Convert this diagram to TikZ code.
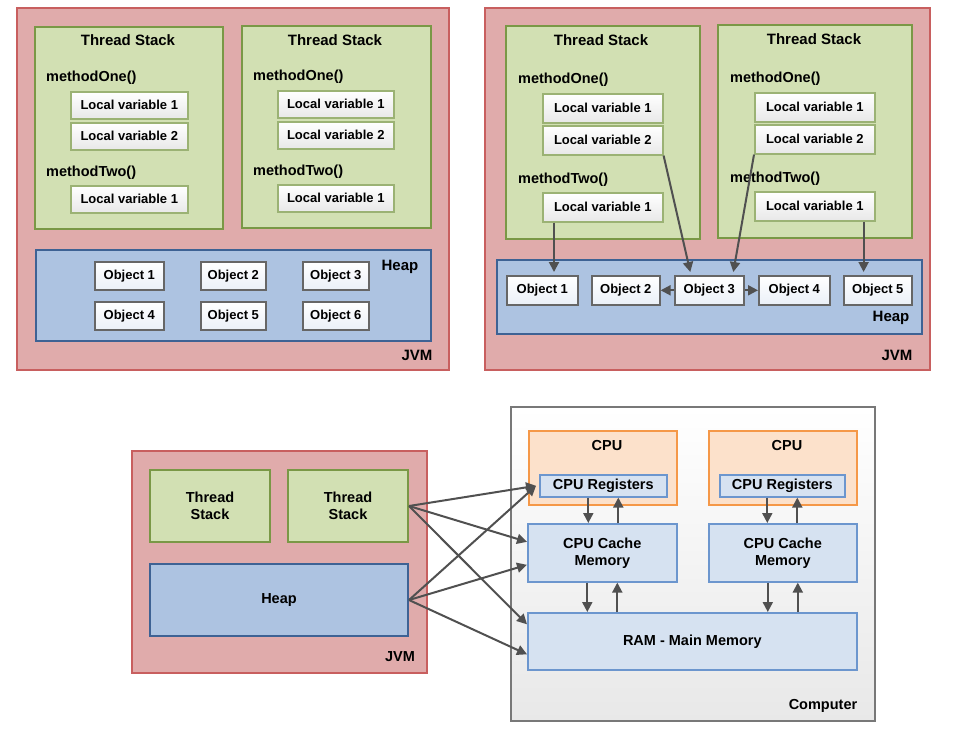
\documentclass[tikz,border=0pt]{standalone}
\usepackage{fontspec}
\setmainfont{Liberation Sans}
\usetikzlibrary{arrows.meta}
\definecolor{jvmfill}{RGB}{224,171,171}
\definecolor{jvmline}{RGB}{200,95,95}
\definecolor{stackfill}{RGB}{210,224,179}
\definecolor{stackline}{RGB}{122,152,70}
\definecolor{heapfill}{RGB}{173,195,225}
\definecolor{heapline}{RGB}{62,98,148}
\definecolor{cpufill}{RGB}{252,225,203}
\definecolor{cpuline}{RGB}{245,152,72}
\definecolor{memfill}{RGB}{214,226,241}
\definecolor{memline}{RGB}{108,150,206}
\definecolor{pcline}{RGB}{120,120,120}
\definecolor{arrowgray}{RGB}{80,80,80}
\tikzset{
  area/.style={draw, line width=2pt, anchor=north west, inner sep=0pt},
  jvm/.style={area, fill=jvmfill, draw=jvmline},
  stack/.style={area, fill=stackfill, draw=stackline},
  heap/.style={area, fill=heapfill, draw=heapline},
  var/.style={area, line width=1.6pt, draw=stackline!75, top color=white, bottom color=black!9,
    font=\fontsize{13}{15}\selectfont\bfseries},
  obj/.style={area, line width=1.6pt, draw=black!60, top color=white, bottom color=heapfill!25,
    font=\fontsize{13}{15}\selectfont\bfseries},
  cpu/.style={area, fill=cpufill, draw=cpuline},
  mem/.style={area, line width=1.6pt, fill=memfill, draw=memline,
    font=\fontsize{14.5}{17}\selectfont\bfseries, align=center},
  title/.style={font=\fontsize{15}{18}\selectfont\bfseries, inner sep=0pt},
  method/.style={font=\fontsize{14.5}{17}\selectfont\bfseries, anchor=west, inner sep=0pt},
  label/.style={font=\fontsize{14.5}{17}\selectfont\bfseries, inner sep=0pt},
  conn/.style={draw=arrowgray, line width=2pt, -{Triangle[length=10pt,width=10pt]}}
}
\begin{document}
\begin{tikzpicture}[x=1pt,y=-1pt]
\useasboundingbox (0,0) rectangle (960,745);
% JVM with two thread stacks and a heap
\node[jvm, minimum width=432, minimum height=362] (jvmA) at (16,7) {};
\node[stack, minimum width=188, minimum height=202] (stackA1) at (34,26) {};
\node[stack, minimum width=189, minimum height=202] (stackA2) at (241,25) {};
\node[title] (titleA1) at (128,40) {Thread Stack};
\node[title] (titleA2) at (335,40) {Thread Stack};
\node[method] (oneA1) at (46,78) {methodOne()};
\node[method] (twoA1) at (46,173) {methodTwo()};
\node[method] (oneA2) at (253,77) {methodOne()};
\node[method] (twoA2) at (253,172) {methodTwo()};
\node[var, minimum width=117, minimum height=27] (lvA1a) at (70,91) {Local variable 1};
\node[var, minimum width=117, minimum height=27] (lvA1b) at (70,122) {Local variable 2};
\node[var, minimum width=117, minimum height=27] (lvA1c) at (70,185) {Local variable 1};
\node[var, minimum width=116, minimum height=27] (lvA2a) at (277,90) {Local variable 1};
\node[var, minimum width=116, minimum height=27] (lvA2b) at (277,121) {Local variable 2};
\node[var, minimum width=116, minimum height=27] (lvA2c) at (277,184) {Local variable 1};
\node[heap, minimum width=395, minimum height=91] (heapA) at (35,249) {};
\node[title] (heapA-label) at (400,267) {Heap};
\node[obj, minimum width=69, minimum height=28] (objA1) at (94,261) {Object 1};
\node[obj, minimum width=65, minimum height=28] (objA2) at (200,261) {Object 2};
\node[obj, minimum width=66, minimum height=28] (objA3) at (302,261) {Object 3};
\node[obj, minimum width=69, minimum height=28] (objA4) at (94,301) {Object 4};
\node[obj, minimum width=65, minimum height=28] (objA5) at (200,301) {Object 5};
\node[obj, minimum width=66, minimum height=28] (objA6) at (302,301) {Object 6};
\node[title] (jvmA-label) at (417,355) {JVM};

% JVM with references from the stacks into the heap
\node[jvm, minimum width=445, minimum height=362] (jvmB) at (484,7) {};
\node[stack, minimum width=194, minimum height=213] (stackB1) at (505,25) {};
\node[stack, minimum width=194, minimum height=213] (stackB2) at (717,24) {};
\node[title] (titleB1) at (601,40) {Thread Stack};
\node[title] (titleB2) at (814,39) {Thread Stack};
\node[method] (oneB1) at (518,80) {methodOne()};
\node[method] (twoB1) at (518,180) {methodTwo()};
\node[method] (oneB2) at (730,79) {methodOne()};
\node[method] (twoB2) at (730,179) {methodTwo()};
\node[var, minimum width=120, minimum height=29] (lvB1a) at (542,93) {Local variable 1};
\node[var, minimum width=120, minimum height=29] (lvB1b) at (542,125) {Local variable 2};
\node[var, minimum width=120, minimum height=29] (lvB1c) at (542,192) {Local variable 1};
\node[var, minimum width=120, minimum height=29] (lvB2a) at (754,92) {Local variable 1};
\node[var, minimum width=120, minimum height=29] (lvB2b) at (754,124) {Local variable 2};
\node[var, minimum width=120, minimum height=29] (lvB2c) at (754,191) {Local variable 1};
\node[heap, minimum width=425, minimum height=74] (heapB) at (496,259) {};
\node[title] (heapB-label) at (891,318) {Heap};
\node[obj, minimum width=71, minimum height=29] (objB1) at (506,275) {Object 1};
\node[obj, minimum width=68, minimum height=29] (objB2) at (591,275) {Object 2};
\node[obj, minimum width=69, minimum height=29] (objB3) at (674,275) {Object 3};
\node[obj, minimum width=71, minimum height=29] (objB4) at (758,275) {Object 4};
\node[obj, minimum width=68, minimum height=29] (objB5) at (843,275) {Object 5};
\node[title] (jvmB-label) at (897,355) {JVM};
\draw[conn] ([xshift=12pt]lvB1c.south west) -- ([xshift=12pt,yshift=3pt]lvB1c.south west |- objB1.north);
\draw[conn] (lvB1b.south east) -- ([xshift=-19pt,yshift=3pt]objB3.north);
\draw[conn] (lvB2b.south west) -- ([xshift=24pt,yshift=3pt]objB3.north);
\draw[conn] ([xshift=-12pt]lvB2c.south east) -- ([xshift=-12pt,yshift=3pt]lvB2c.south east |- objB5.north);
\draw[conn] (objB3.west) -- (objB2.east);
\draw[conn] (objB3.east) -- (objB4.west);

% JVM next to the hardware
\node[jvm, minimum width=295, minimum height=222] (jvmC) at (131,450) {};
\node[stack, minimum width=120, minimum height=72, font=\fontsize{14.5}{17}\selectfont\bfseries, align=center] (stackC1) at (149,469) {Thread\\Stack};
\node[stack, minimum width=120, minimum height=72, font=\fontsize{14.5}{17}\selectfont\bfseries, align=center] (stackC2) at (287,469) {Thread\\Stack};
\node[heap, minimum width=258, minimum height=72, font=\fontsize{14.5}{17}\selectfont\bfseries] (heapC) at (149,563) {Heap};
\node[label] (jvmC-label) at (400,657) {JVM};
\node[area, draw=pcline, top color=white, bottom color=black!9, minimum width=364, minimum height=314] (computer) at (510,406) {};
\node[label] (computer-label) at (823,706) {Computer};
\node[cpu, minimum width=148, minimum height=74] (cpu1) at (528,430) {};
\node[cpu, minimum width=148, minimum height=74] (cpu2) at (708,430) {};
\node[label] (cpu1-label) at (607,445) {CPU};
\node[label] (cpu2-label) at (787,445) {CPU};
\node[mem, minimum width=127, minimum height=22] (reg1) at (539,474) {CPU Registers};
\node[mem, minimum width=125, minimum height=22] (reg2) at (719,474) {CPU Registers};
\node[mem, minimum width=149, minimum height=58] (cache1) at (527,523) {CPU Cache\\Memory};
\node[mem, minimum width=148, minimum height=58] (cache2) at (708,523) {CPU Cache\\Memory};
\node[mem, minimum width=329, minimum height=57] (ram) at (527,612) {RAM - Main Memory};
\draw[conn] ([xshift=-15pt]reg1.south) -- ([xshift=-15pt]reg1.south |- cache1.north);
\draw[conn] ([xshift=15pt]reg1.south |- cache1.north) -- ([xshift=15pt]reg1.south);
\draw[conn] ([xshift=-15pt]reg2.south) -- ([xshift=-15pt]reg2.south |- cache2.north);
\draw[conn] ([xshift=15pt]reg2.south |- cache2.north) -- ([xshift=15pt]reg2.south);
\draw[conn] ([xshift=-15pt]cache1.south) -- ([xshift=-15pt]cache1.south |- ram.north);
\draw[conn] ([xshift=15pt]cache1.south |- ram.north) -- ([xshift=15pt]cache1.south);
\draw[conn] ([xshift=-15pt]cache2.south) -- ([xshift=-15pt]cache2.south |- ram.north);
\draw[conn] ([xshift=15pt]cache2.south |- ram.north) -- ([xshift=15pt]cache2.south);
\draw[conn] (stackC2.east) -- ([xshift=-3pt]reg1.west);
\draw[conn] (stackC2.east) -- ([yshift=11pt]cache1.west);
\draw[conn] (stackC2.east) -- ([yshift=17pt]ram.west);
\draw[conn] (heapC.east) -- ([xshift=-3pt]reg1.west);
\draw[conn] (heapC.east) -- ([yshift=-12pt]cache1.west);
\draw[conn] (heapC.east) -- ([yshift=-13pt]ram.west);
\end{tikzpicture}
\end{document}
